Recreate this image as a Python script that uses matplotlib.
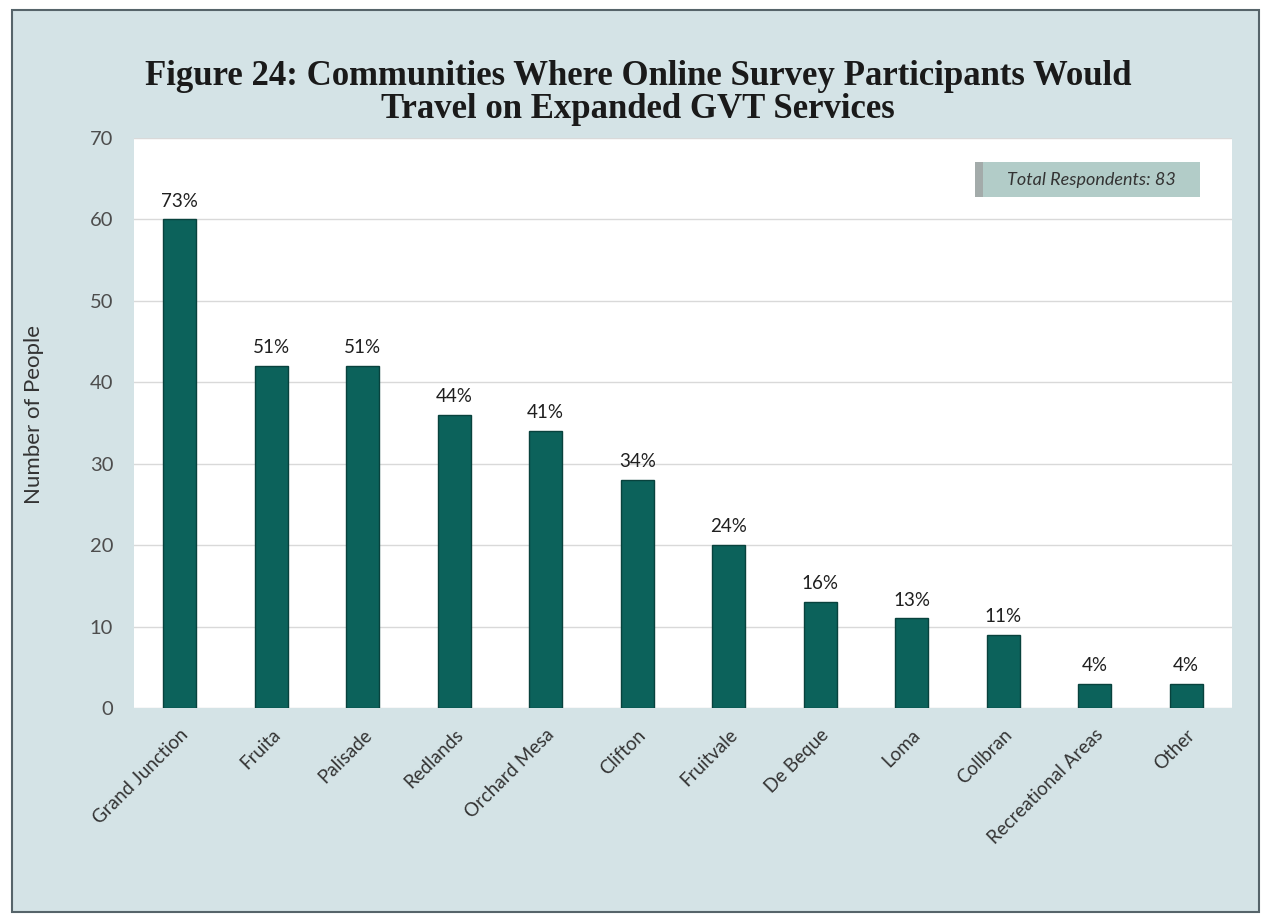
import matplotlib.pyplot as plt
from matplotlib.patches import Rectangle

communities = [
    "Grand Junction", "Fruita", "Palisade", "Redlands", "Orchard Mesa",
    "Clifton", "Fruitvale", "De Beque", "Loma", "Collbran",
    "Recreational Areas", "Other",
]
people = [60, 42, 42, 36, 34, 28, 20, 13, 11, 9, 3, 3]
percent_labels = ["73%", "51%", "51%", "44%", "41%", "34%", "24%", "16%",
                  "13%", "11%", "4%", "4%"]
total_respondents = 83

plt.rcParams["font.family"] = ["Lato", "DejaVu Sans"]

fig = plt.figure(figsize=(12.62, 9.14), dpi=100)
fig.patch.set_facecolor("white")

# panel background with dark frame
fig.add_artist(Rectangle((12 / 1262, 2 / 914), 1247 / 1262, 902 / 914,
                         transform=fig.transFigure, facecolor="#d4e3e6",
                         edgecolor="#56646a", linewidth=1.5, zorder=-10))

ax = fig.add_axes([134 / 1262, 1 - 708 / 914, 1098 / 1262, 570 / 914])
ax.set_facecolor("white")

x = range(len(communities))
ax.bar(x, people, width=0.36, color="#0c625b", edgecolor="#08423d",
       linewidth=1, zorder=3)

for xi, v, lab in zip(x, people, percent_labels):
    ax.annotate(lab, (xi, v), xytext=(0, 7), textcoords="offset points",
                ha="center", va="bottom", fontsize=13.5, color="#1f1f1f")

ax.set_ylim(0, 70)
ax.set_xlim(-0.5, len(communities) - 0.5)
ax.set_yticks(range(0, 71, 10))
ax.yaxis.grid(True, color="#d9d9d9", linewidth=1, zorder=0)
for s in ax.spines.values():
    s.set_visible(False)

ax.tick_params(axis="y", length=0, pad=15, labelsize=14.5, labelcolor="#4d4d4d")
ax.tick_params(axis="x", length=0, pad=13, labelsize=13.5, labelcolor="#333333")
ax.set_xticks(list(x))
ax.set_xticklabels(communities, rotation=45, ha="right",
                   rotation_mode="anchor")

ax.set_ylabel("Number of People", fontsize=16, color="#333333")
ax.yaxis.set_label_coords(-0.082, 0.515)

# respondents note box
ax.add_patch(Rectangle((0.766, 0.896), 0.199, 0.062, transform=ax.transAxes,
                       facecolor="#a3abaa", edgecolor="none", zorder=4))
ax.add_patch(Rectangle((0.773, 0.896), 0.198, 0.062, transform=ax.transAxes,
                       facecolor="#b2ccc8", edgecolor="none", zorder=5))
ax.text(0.872, 0.927, f"Total Respondents: {total_respondents}",
        transform=ax.transAxes, ha="center", va="center", fontsize=13,
        style="italic", color="#333333", zorder=6)

fig.text(0.5055, 1 - 93 / 914,
         "Figure 24: Communities Where Online Survey Participants Would\n"
         "Travel on Expanded GVT Services",
         ha="center", va="center", fontsize=25, fontweight="bold",
         family="Liberation Serif", color="#1a1a1a", linespacing=0.98)

fig.savefig("out.png", dpi=100, facecolor=fig.get_facecolor())
